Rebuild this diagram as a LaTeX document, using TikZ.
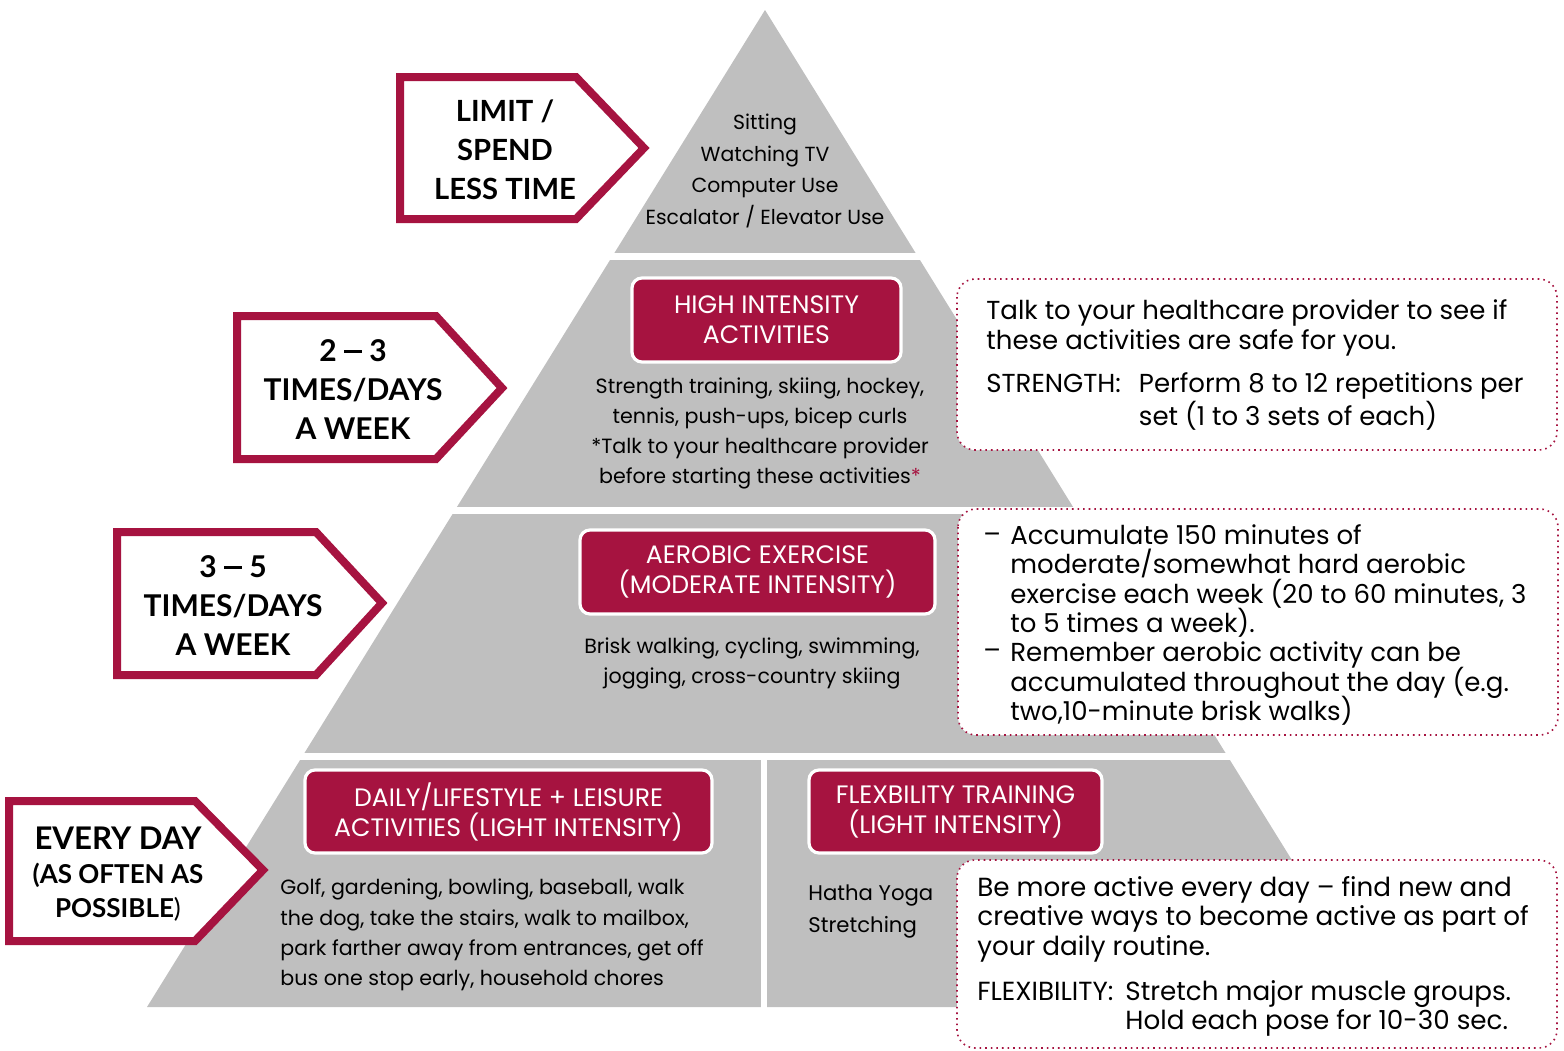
\documentclass[tikz,border=0pt]{standalone}
\usepackage{fontspec}
\setmainfont{Poppins}
\newfontfamily\tagfont{Lato}
\usetikzlibrary{positioning}
\definecolor{wine}{RGB}{166,19,64}
\definecolor{pyrgray}{RGB}{191,191,191}
\newcommand{\tagdash}{\rule[0.3em]{9pt}{1.7pt}}
\newcommand{\tightlines}{\lineskiplimit=-20pt\relax}

\begin{document}
\begin{tikzpicture}[x=0.5pt,y=-0.5pt,
    tagbox/.style={draw=wine,line width=4pt,fill=white,line join=miter},
    tagtext/.style={font=\tagfont\bfseries\fontsize{15}{19.5}\selectfont,align=center,inner sep=0pt},
    header/.style={fill=wine,draw=white,line width=1.6pt,rounded corners=5pt,text=white,
        align=center,inner sep=0pt,font=\fontsize{12.6}{15}\selectfont},
    body/.style={inner sep=0pt,font=\fontsize{10.3}{15}\selectfont},
    callout/.style={draw=wine,dotted,line width=0.8pt,fill=white,rounded corners=9pt},
    note/.style={inner sep=0pt,anchor=west,align=left,
        font=\fontsize{13}{14.7}\selectfont\tightlines},
    notetab/.style={inner sep=0pt,anchor=west,font=\fontsize{13}{14.7}\selectfont}]
\useasboundingbox (0,0) rectangle (1564,1050);

% the pyramid, cut in tiers by white gaps
\fill[pyrgray] (765,10) -- (1383,1007) -- (147,1007) -- cycle;
\draw[white,line width=3.2pt] (100,256.5) -- (1450,256.5);
\draw[white,line width=3.2pt] (100,510.5) -- (1450,510.5);
\draw[white,line width=3.2pt] (100,756.5) -- (1450,756.5);
\draw[white,line width=3.2pt] (764,756) -- (764,1010);

% how often: the arrow tags on the left
\draw[tagbox] (400,77) -- (576,77) -- (644,148) -- (576,219) -- (400,219) -- cycle;
\node[tagtext,font=\tagfont\bfseries\fontsize{14.6}{19.5}\selectfont] (limit) at (505,150)
    {LIMIT /\\SPEND\\LESS TIME};
\draw[tagbox] (237,316) -- (436,316) -- (502,388) -- (436,459) -- (237,459) -- cycle;
\node[tagtext] (twothree) at (353,390) {2 \tagdash{} 3\\TIMES/DAYS\\A WEEK};
\draw[tagbox] (117,532) -- (316,532) -- (382,603) -- (316,675) -- (117,675) -- cycle;
\node[tagtext] (threefive) at (233,606) {3 \tagdash{} 5\\TIMES/DAYS\\A WEEK};
\draw[tagbox] (9,801) -- (195,801) -- (263,870) -- (195,941) -- (9,941) -- cycle;
\node[tagtext,font=\tagfont\bfseries\fontsize{13}{17}\selectfont] (everyday) at (118,874)
    {{\fontsize{15.6}{18}\selectfont EVERY DAY}\\(AS OFTEN AS\\POSSIBLE{\mdseries)}};

% top tier
\node[body,align=center,font=\fontsize{10.2}{15.7}\selectfont] (sitting) at (765,171)
    {Sitting\\Watching TV\\Computer Use\\Escalator / Elevator Use};

% high intensity tier
\node[header,minimum width=134.5pt,minimum height=42pt] (high) at (766.5,320)
    {HIGH INTENSITY\\ACTIVITIES};
\node[body,align=center] (highlist) at (760,433.5)
    {Strength training, skiing, hockey,\\tennis, push-ups, bicep curls\\
     *Talk to your healthcare provider\\before starting these activities{\color{wine}*}};

% aerobic tier
\node[header,minimum width=177.5pt,minimum height=42pt] (aero) at (757.5,572)
    {AEROBIC EXERCISE\\(MODERATE INTENSITY)};
\node[body,align=center] (aerolist) at (752,663)
    {Brisk walking, cycling, swimming,\\jogging, cross-country skiing};

% bottom tier, two halves
\node[header,minimum width=203.5pt,minimum height=41.5pt] (daily) at (508.5,811.5)
    {DAILY/LIFESTYLE + LEISURE\\ACTIVITIES (LIGHT INTENSITY)};
\node[body,anchor=west,align=left,font=\fontsize{10.3}{15.2}\selectfont] (dailylist) at (280,935)
    {Golf, gardening, bowling, baseball, walk\\the dog, take the stairs, walk to mailbox,\\
     park farther away from entrances, get off\\bus one stop early, household chores};
\node[header,minimum width=146.5pt,minimum height=41.5pt] (flex) at (955.5,811.5)
    {FLEXBILITY TRAINING\\(LIGHT INTENSITY)};
\node[body,anchor=west,align=left,font=\fontsize{10.6}{16}\selectfont] (flexlist) at (808,912)
    {Hatha Yoga\\Stretching};

% notes on the right
\draw[callout] (957,279) rectangle (1557,450);
\node[note] (strengthnote) at (986,328)
    {Talk to your healthcare provider to see if\\these activities are safe for you.};
\node[notetab] (strength) at (986,403)
    {\begin{tabular}{@{}l@{\hspace{9pt}}l@{}}STRENGTH: & Perform 8 to 12 repetitions per\\
     & set (1 to 3 sets of each)\end{tabular}};

\draw[callout] (958,509) rectangle (1558,735);
\node[note] (dashone) at (983,538) {--};
\node[note] (dashtwo) at (983,654) {--};
\node[note] (aeronote) at (1010,625)
    {Accumulate 150 minutes of\\moderate/somewhat hard aerobic\\
     exercise each week (20 to 60 minutes, 3\\to 5 times a week).\\
     Remember aerobic activity can be\\accumulated throughout the day (e.g.\\
     two,10-minute brisk walks)};

\draw[callout] (957,860) rectangle (1557,1048);
\node[note,font=\fontsize{13.1}{14.7}\selectfont\tightlines] (dailynote) at (977,919)
    {Be more active every day -- find new and\\creative ways to become active as part of\\
     your daily routine.};
\node[notetab,font=\fontsize{13.1}{14.7}\selectfont] (flexibility) at (977,1009)
    {\begin{tabular}{@{}l@{\hspace{6pt}}l@{}}FLEXIBILITY: & Stretch major muscle groups.\\
     & Hold each pose for 10-30 sec.\end{tabular}};
\end{tikzpicture}
\end{document}
